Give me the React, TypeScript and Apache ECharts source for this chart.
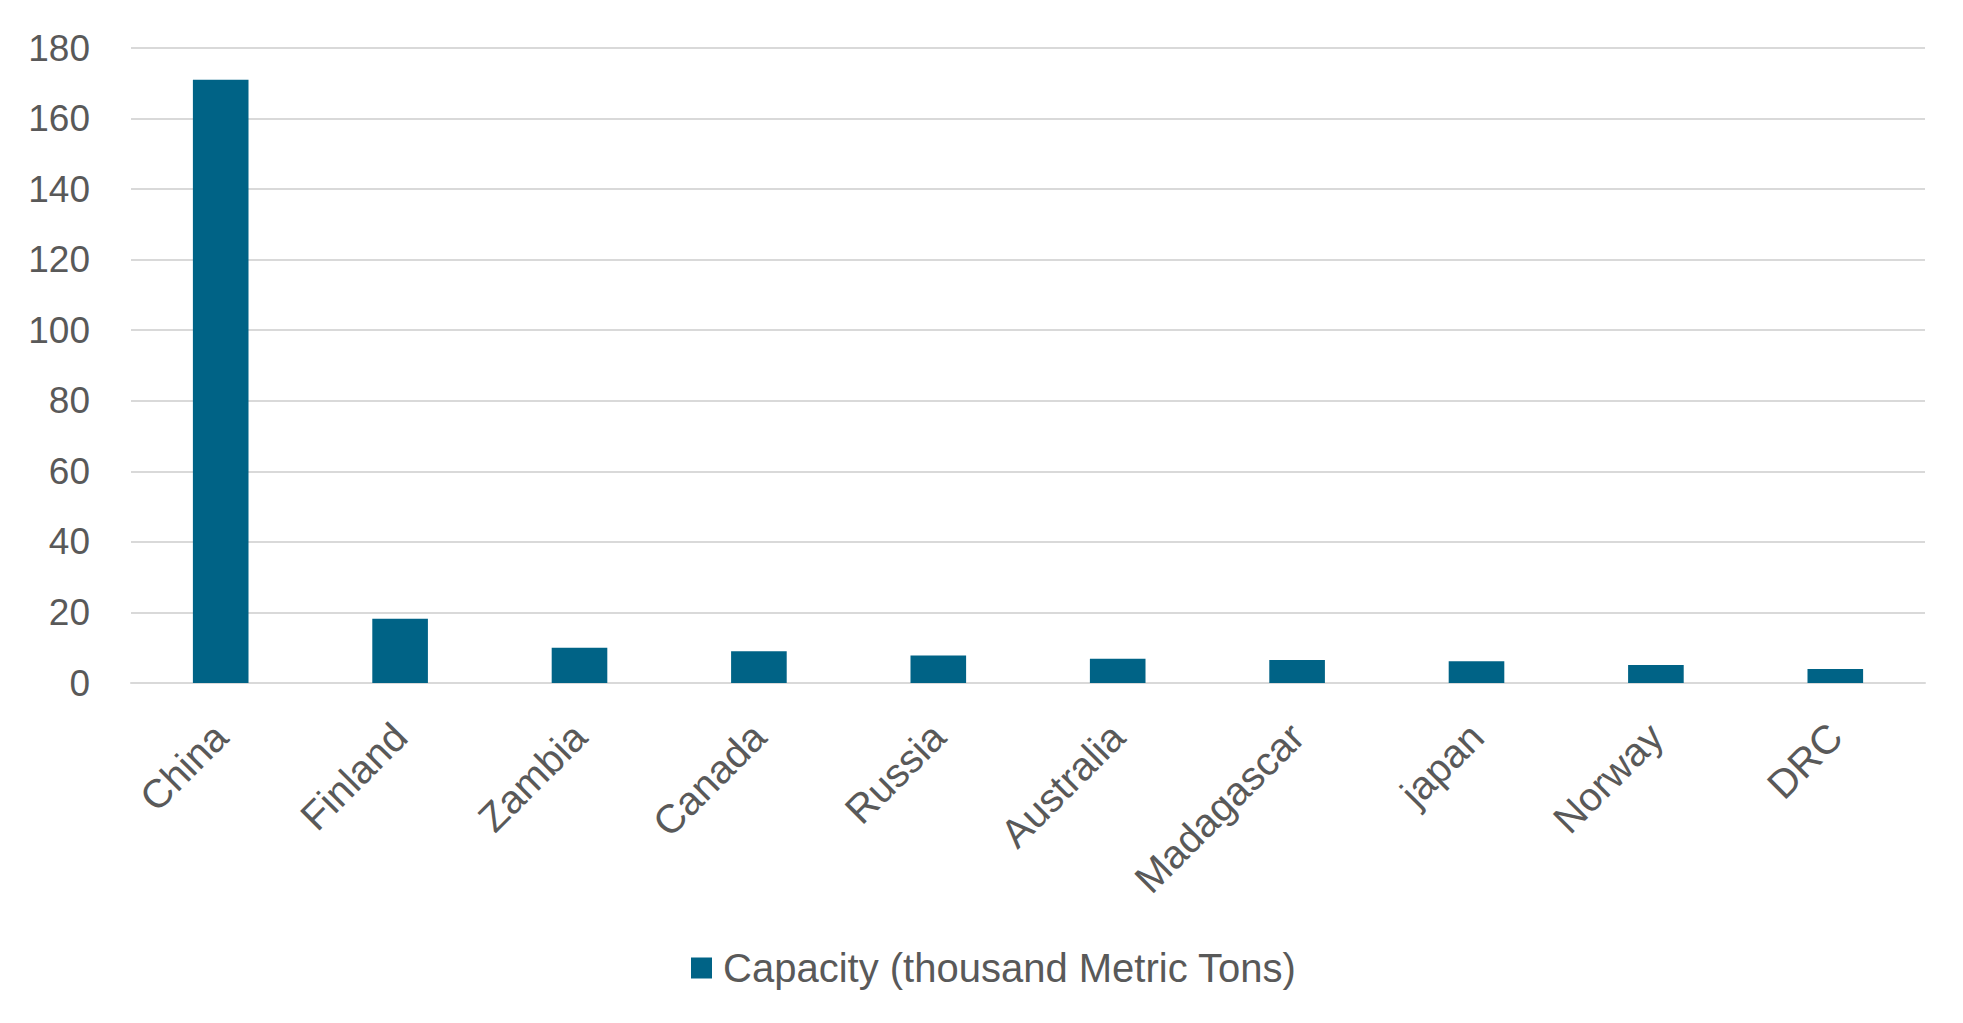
import React, { useEffect, useRef } from "react";
import * as echarts from "echarts";

const categories = ["China", "Finland", "Zambia", "Canada", "Russia", "Australia", "Madagascar", "japan", "Norway", "DRC"];
const capacity = [171, 18.2, 10, 9, 7.8, 6.9, 6.5, 6.2, 5.1, 4.0];
const seriesName = "Capacity (thousand Metric Tons)";
const yMin = 0;
const yMax = 180;
const yInterval = 20;

const TEXT = "#595959";
const GRID = "#d9d9d9";
const BAR = "#006386";
const FONT = "'Liberation Sans', Arial, sans-serif";

export default function App() {
  const ref = useRef<HTMLDivElement>(null);
  useEffect(() => {
    if (!ref.current) return;
    const chart = echarts.init(ref.current, undefined, { renderer: "svg" });
    chart.setOption({
      animation: false,
      backgroundColor: "#ffffff",
      textStyle: { fontFamily: FONT },
      grid: { left: 131, right: 38, top: 48, bottom: 340, containLabel: false },
      legend: {
        data: [seriesName],
        top: 943,
        left: 686,
        icon: "rect",
        itemWidth: 21,
        itemHeight: 21,
        textStyle: { color: TEXT, fontSize: 40, fontFamily: FONT, padding: [0, 0, 0, 6] },
      },
      xAxis: {
        type: "category",
        data: categories,
        axisLine: { show: true, lineStyle: { color: GRID, width: 2 } },
        axisTick: { show: false },
        axisLabel: { color: TEXT, fontSize: 40, rotate: 45, margin: 47, interval: 0, fontFamily: FONT },
      },
      yAxis: {
        type: "value",
        min: yMin,
        max: yMax,
        interval: yInterval,
        axisLine: { show: false },
        axisTick: { show: false },
        axisLabel: { color: TEXT, fontSize: 37, margin: 41, fontFamily: FONT },
        splitLine: { lineStyle: { color: GRID, width: 2 } },
      },
      series: [
        {
          name: seriesName,
          type: "bar",
          data: capacity,
          barWidth: "31%",
          itemStyle: { color: BAR },
        },
      ],
    });
    return () => chart.dispose();
  }, []);
  return (
    <div
      ref={ref}
      style={{ position: "absolute", left: 0, top: 0, width: 1963, height: 1023, background: "#fff" }}
    />
  );
}
